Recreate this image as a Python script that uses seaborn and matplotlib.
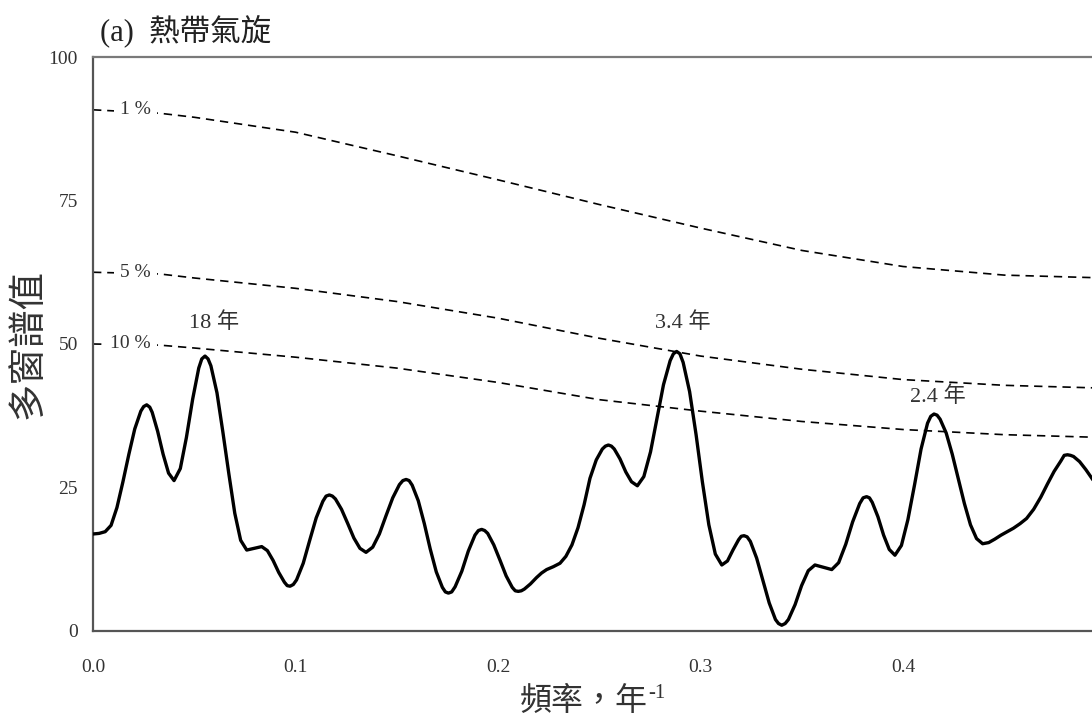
import matplotlib
matplotlib.use("Agg")
import matplotlib.pyplot as plt
import seaborn as sns

# Multitaper spectrum of tropical cyclone counts
freq = [0.0000, 0.0030, 0.0060, 0.0089, 0.0118, 0.0147, 0.0177, 0.0206, 0.0236, 0.0250,
        0.0265, 0.0280, 0.0292, 0.0319, 0.0346, 0.0373, 0.0400, 0.0431, 0.0461, 0.0492,
        0.0522, 0.0537, 0.0553, 0.0568, 0.0582, 0.0612, 0.0641, 0.0671, 0.0700, 0.0729,
        0.0759, 0.0796, 0.0833, 0.0861, 0.0889, 0.0917, 0.0945, 0.0959, 0.0973, 0.0989,
        0.1005, 0.1038, 0.1070, 0.1102, 0.1135, 0.1151, 0.1167, 0.1182, 0.1197, 0.1227,
        0.1258, 0.1288, 0.1318, 0.1348, 0.1381, 0.1414, 0.1447, 0.1480, 0.1513, 0.1530,
        0.1546, 0.1561, 0.1576, 0.1606, 0.1636, 0.1665, 0.1695, 0.1725, 0.1740, 0.1755,
        0.1771, 0.1788, 0.1821, 0.1853, 0.1886, 0.1903, 0.1919, 0.1934, 0.1949, 0.1979,
        0.2010, 0.2040, 0.2070, 0.2085, 0.2100, 0.2115, 0.2130, 0.2160, 0.2190, 0.2215,
        0.2240, 0.2273, 0.2306, 0.2335, 0.2365, 0.2395, 0.2425, 0.2454, 0.2485, 0.2515,
        0.2530, 0.2545, 0.2560, 0.2574, 0.2602, 0.2631, 0.2659, 0.2688, 0.2720, 0.2753,
        0.2785, 0.2817, 0.2850, 0.2866, 0.2882, 0.2898, 0.2914, 0.2946, 0.2978, 0.3009,
        0.3041, 0.3073, 0.3105, 0.3133, 0.3160, 0.3188, 0.3201, 0.3215, 0.3230, 0.3246,
        0.3277, 0.3308, 0.3339, 0.3370, 0.3385, 0.3401, 0.3418, 0.3434, 0.3467, 0.3499,
        0.3532, 0.3565, 0.3606, 0.3648, 0.3682, 0.3717, 0.3751, 0.3786, 0.3803, 0.3820,
        0.3834, 0.3848, 0.3876, 0.3904, 0.3932, 0.3960, 0.3992, 0.4024, 0.4057, 0.4089,
        0.4121, 0.4137, 0.4153, 0.4168, 0.4183, 0.4213, 0.4243, 0.4273, 0.4303, 0.4333,
        0.4363, 0.4393, 0.4423, 0.4453, 0.4484, 0.4515, 0.4545, 0.4578, 0.4610, 0.4645,
        0.4680, 0.4713, 0.4746, 0.4779, 0.4796, 0.4812, 0.4827, 0.4842, 0.4872, 0.4903,
        0.4933, 0.4965, 0.5000]
power = [16.9, 17.0, 17.3, 18.4, 21.5, 25.9, 30.8, 35.2, 38.3, 39.1,
         39.4, 39.0, 38.1, 34.8, 30.8, 27.5, 26.2, 28.3, 33.7, 40.4,
         45.8, 47.4, 47.9, 47.4, 46.2, 41.5, 34.7, 27.3, 20.5, 15.8,
         14.1, 14.4, 14.7, 14.0, 12.3, 10.2, 8.5, 7.9, 7.8, 8.1,
         8.9, 11.8, 15.8, 19.7, 22.6, 23.5, 23.7, 23.5, 23.0, 21.2,
         18.7, 16.2, 14.4, 13.7, 14.6, 16.9, 20.1, 23.2, 25.5, 26.2,
         26.4, 26.2, 25.4, 22.7, 18.7, 14.3, 10.3, 7.6, 6.8, 6.6,
         6.8, 7.7, 10.4, 13.9, 16.7, 17.5, 17.7, 17.5, 17.0, 15.0,
         12.3, 9.6, 7.6, 7.0, 6.9, 7.0, 7.3, 8.2, 9.3, 10.1,
         10.7, 11.2, 11.8, 13.0, 15.0, 18.0, 22.0, 26.6, 29.8, 31.7,
         32.2, 32.4, 32.2, 31.7, 30.0, 27.7, 26.0, 25.3, 26.9, 31.2,
         37.0, 42.9, 47.1, 48.3, 48.7, 48.3, 46.8, 41.7, 34.2, 26.0,
         18.5, 13.4, 11.5, 12.2, 14.1, 15.9, 16.5, 16.6, 16.4, 15.6,
         12.7, 8.8, 4.9, 2.0, 1.3, 1.0, 1.3, 2.0, 4.6, 7.9,
         10.5, 11.5, 11.1, 10.7, 11.9, 15.1, 19.0, 22.2, 23.2, 23.4,
         23.2, 22.4, 19.9, 16.7, 14.2, 13.2, 14.9, 19.4, 25.5, 31.7,
         36.2, 37.4, 37.8, 37.6, 36.9, 34.5, 30.8, 26.5, 22.2, 18.5,
         16.1, 15.2, 15.4, 16.0, 16.7, 17.3, 17.9, 18.7, 19.6, 21.2,
         23.3, 25.6, 27.8, 29.6, 30.6, 30.7, 30.6, 30.4, 29.5, 28.1,
         26.6, 24.8, 22.8]

# Red-noise significance levels
sig_freq = [0.00, 0.033, 0.05, 0.10, 0.15, 0.20, 0.25, 0.30, 0.35, 0.40, 0.45, 0.50]
sig_1 = [90.8, 90.2, 89.5, 86.9, 82.8, 78.6, 74.3, 70.2, 66.3, 63.5, 62.0, 61.5]
sig_5 = [62.5, 62.2, 61.5, 59.7, 57.4, 54.5, 51.0, 47.9, 45.6, 43.8, 42.8, 42.3]
sig_10 = [50.0, 49.8, 49.3, 47.7, 45.8, 43.3, 40.3, 38.3, 36.5, 35.1, 34.2, 33.7]
sig_labels = ["1 %", "5 %", "10 %"]

# Period labels over the main peaks
peak_labels = ["18 年", "3.4 年", "2.4 年"]
peak_label_x = [0.060, 0.291, 0.417]
peak_label_y = [53.7, 53.8, 40.8]

x_ticks = [0.0, 0.1, 0.2, 0.3, 0.4]
x_tick_labels = ["0.0", "0.1", "0.2", "0.3", "0.4"]
y_ticks = [0, 25, 50, 75, 100]

sns.set_theme(style="white")
plt.rcParams["font.family"] = ["Liberation Serif", "Noto Sans CJK TC", "DejaVu Sans"]
plt.rcParams["axes.unicode_minus"] = False

fig = plt.figure(figsize=(10.92, 7.18), dpi=100)
ax = fig.add_axes([0.0852, 0.1212, 0.9272, 0.7994])

spine_color = "#555555"
text_color = "#333333"

dash = (0, (5, 3.5))
for vals in (sig_1, sig_5, sig_10):
    sns.lineplot(x=sig_freq, y=vals, ax=ax, color="black", lw=1.2,
                 linestyle=dash, sort=False, estimator=None, zorder=2)

sns.lineplot(x=freq, y=power, ax=ax, color="black", lw=2.4, sort=True,
             estimator=None, zorder=3, solid_joinstyle="round",
             solid_capstyle="round")

# significance level labels sit on the start of each dashed curve
for lab, vals in zip(sig_labels, (sig_1, sig_5, sig_10)):
    ax.text(0.0285, vals[0], lab, ha="right", va="center", fontsize=14,
            color=text_color, zorder=4,
            bbox=dict(boxstyle="square,pad=0.3", fc="white", ec="none"))

for lab, px, py in zip(peak_labels, peak_label_x, peak_label_y):
    ax.text(px, py, lab, ha="center", va="center", fontsize=16, color=text_color,
            zorder=4)

ax.set_xlim(0, 0.5)
ax.set_ylim(0, 100)
ax.set_xticks(x_ticks)
ax.set_xticklabels(x_tick_labels)
ax.set_yticks(y_ticks)
ax.tick_params(axis="both", which="major", direction="out", length=5, width=1.2,
               color=spine_color, labelsize=14, labelcolor=text_color)
ax.tick_params(axis="x", pad=15)
ax.tick_params(axis="y", pad=6)
for side in ("left", "bottom", "top", "right"):
    ax.spines[side].set_color(spine_color)
    ax.spines[side].set_linewidth(1.6)
ax.spines["top"].set_color("#7a7a7a")

ax.set_ylabel("多窗譜值", fontsize=27, color=text_color)
ax.yaxis.set_label_coords(-0.046, 0.5)
xl = ax.set_xlabel("頻率，年", fontsize=23, color=text_color)
ax.xaxis.set_label_coords(0.485, -0.097)
ax.annotate("-1", xy=(1.0, 1.0), xycoords=xl, xytext=(0, 2),
            textcoords="offset points", ha="left", va="top", fontsize=15,
            color=text_color)

fig.text(0.0915, 0.957, "(a)  熱帶氣旋", ha="left", va="center", fontsize=22,
         color="#222222")

fig.savefig("out.png", dpi=100)
